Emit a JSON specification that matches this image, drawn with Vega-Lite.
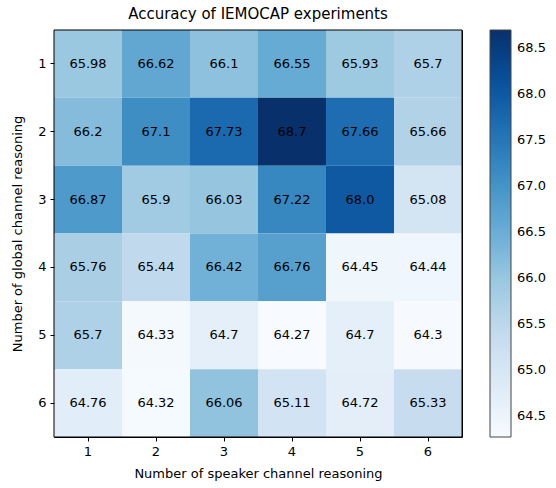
{
  "$schema": "https://vega.github.io/schema/vega-lite/v6.json",
  "autosize": {"type": "none"},
  "padding": {"left": 54, "top": 30, "right": 94, "bottom": 51},
  "width": 408,
  "height": 407,
  "title": {"text": "Accuracy of IEMOCAP experiments", "font": "DejaVu Sans", "fontSize": 15, "fontWeight": "normal", "color": "#000", "offset": 8},
  "datasets": {"cells": [
    {"g": 1, "s": 1, "v": 65.98, "t": "65.98"}, {"g": 1, "s": 2, "v": 66.62, "t": "66.62"}, {"g": 1, "s": 3, "v": 66.1, "t": "66.1"}, {"g": 1, "s": 4, "v": 66.55, "t": "66.55"}, {"g": 1, "s": 5, "v": 65.93, "t": "65.93"}, {"g": 1, "s": 6, "v": 65.7, "t": "65.7"},
    {"g": 2, "s": 1, "v": 66.2, "t": "66.2"}, {"g": 2, "s": 2, "v": 67.1, "t": "67.1"}, {"g": 2, "s": 3, "v": 67.73, "t": "67.73"}, {"g": 2, "s": 4, "v": 68.7, "t": "68.7"}, {"g": 2, "s": 5, "v": 67.66, "t": "67.66"}, {"g": 2, "s": 6, "v": 65.66, "t": "65.66"},
    {"g": 3, "s": 1, "v": 66.87, "t": "66.87"}, {"g": 3, "s": 2, "v": 65.9, "t": "65.9"}, {"g": 3, "s": 3, "v": 66.03, "t": "66.03"}, {"g": 3, "s": 4, "v": 67.22, "t": "67.22"}, {"g": 3, "s": 5, "v": 68.0, "t": "68.0"}, {"g": 3, "s": 6, "v": 65.08, "t": "65.08"},
    {"g": 4, "s": 1, "v": 65.76, "t": "65.76"}, {"g": 4, "s": 2, "v": 65.44, "t": "65.44"}, {"g": 4, "s": 3, "v": 66.42, "t": "66.42"}, {"g": 4, "s": 4, "v": 66.76, "t": "66.76"}, {"g": 4, "s": 5, "v": 64.45, "t": "64.45"}, {"g": 4, "s": 6, "v": 64.44, "t": "64.44"},
    {"g": 5, "s": 1, "v": 65.7, "t": "65.7"}, {"g": 5, "s": 2, "v": 64.33, "t": "64.33"}, {"g": 5, "s": 3, "v": 64.7, "t": "64.7"}, {"g": 5, "s": 4, "v": 64.27, "t": "64.27"}, {"g": 5, "s": 5, "v": 64.7, "t": "64.7"}, {"g": 5, "s": 6, "v": 64.3, "t": "64.3"},
    {"g": 6, "s": 1, "v": 64.76, "t": "64.76"}, {"g": 6, "s": 2, "v": 64.32, "t": "64.32"}, {"g": 6, "s": 3, "v": 66.06, "t": "66.06"}, {"g": 6, "s": 4, "v": 65.11, "t": "65.11"}, {"g": 6, "s": 5, "v": 64.72, "t": "64.72"}, {"g": 6, "s": 6, "v": 65.33, "t": "65.33"}
  ]},
  "layer": [
    {"data": {"name": "cells"},
     "mark": {"type": "rect"},
     "encoding": {
      "x": {"field": "s", "type": "ordinal", "title": "Number of speaker channel reasoning",
        "scale": {"paddingInner": 0, "paddingOuter": 0},
        "axis": {"labelAngle": 0, "domain": false, "tickColor": "#000", "tickSize": 4, "labelFont": "DejaVu Sans", "labelFontSize": 13, "labelColor": "#000", "labelPadding": 4, "titleFont": "DejaVu Sans", "titleFontSize": 13, "titleFontWeight": "normal", "titleColor": "#000", "titlePadding": 9}},
      "y": {"field": "g", "type": "ordinal", "title": "Number of global channel reasoning",
        "scale": {"paddingInner": 0, "paddingOuter": 0},
        "axis": {"domain": false, "tickColor": "#000", "tickSize": 4, "labelFont": "DejaVu Sans", "labelFontSize": 13, "labelColor": "#000", "labelPadding": 4, "titleFont": "DejaVu Sans", "titleFontSize": 13, "titleFontWeight": "normal", "titleColor": "#000", "titlePadding": 13}},
      "color": {"field": "v", "type": "quantitative", "title": null,
        "scale": {"domain": [64.27, 68.7], "range": ["#f7fbff", "#deebf7", "#c6dbef", "#9ecae1", "#6baed6", "#4292c6", "#2171b5", "#08519c", "#08306b"], "interpolate": "rgb"},
        "legend": {"values": [64.5, 65.0, 65.5, 66.0, 66.5, 67.0, 67.5, 68.0, 68.5], "format": ".1f", "gradientLength": 407, "gradientThickness": 21, "offset": 28, "padding": 0, "labelFont": "DejaVu Sans", "labelFontSize": 13, "labelColor": "#000", "labelOffset": 6, "gradientStrokeColor": "#444", "gradientStrokeWidth": 1, "labelOverlap": false}}}},
    {"data": {"name": "cells"},
     "mark": {"type": "text", "font": "DejaVu Sans", "fontSize": 13, "color": "#000"},
     "encoding": {
      "x": {"field": "s", "type": "ordinal"},
      "y": {"field": "g", "type": "ordinal"},
      "text": {"field": "t", "type": "nominal"}}},
    {"data": {"values": [{}]},
     "mark": {"type": "rect", "fill": null, "stroke": "#000", "strokeWidth": 1},
     "encoding": {}}
  ],
  "config": {"view": {"stroke": "#000", "strokeWidth": 1}}
}
